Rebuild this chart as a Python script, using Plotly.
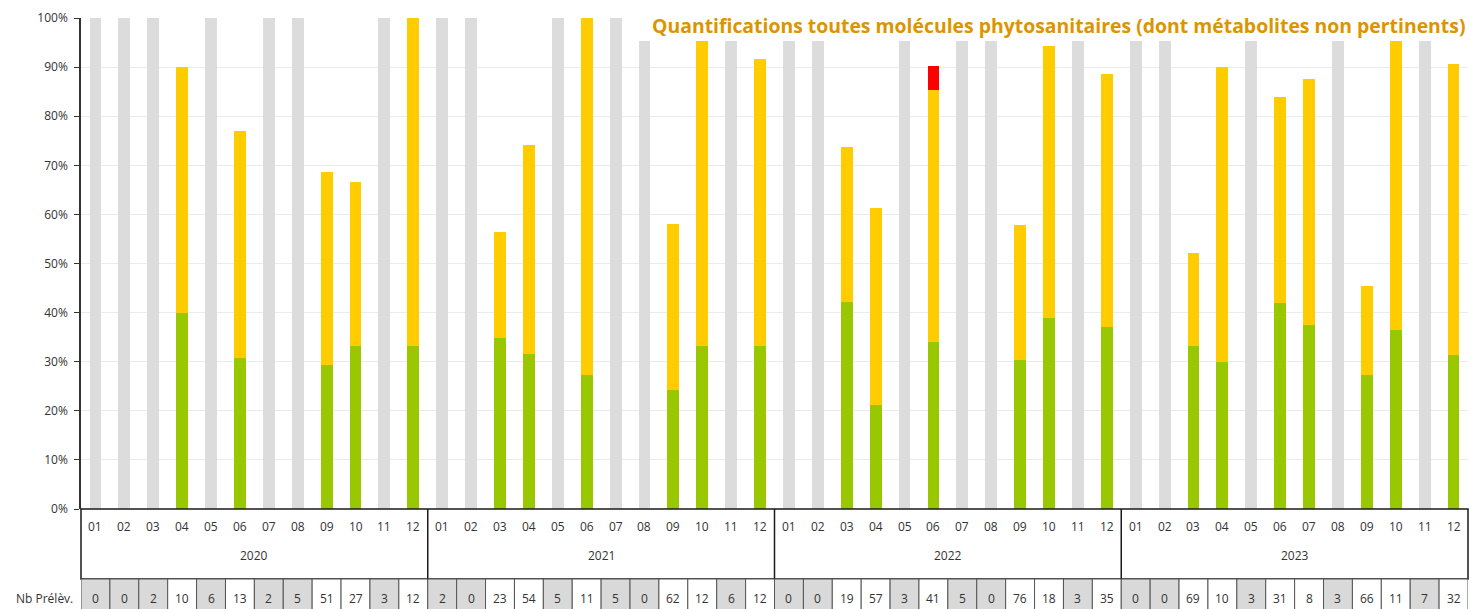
import plotly.graph_objects as go

# ---------------- data ----------------
years = ["2020", "2021", "2022", "2023"]
month_labels = ["01", "02", "03", "04", "05", "06", "07", "08", "09", "10", "11", "12"]

nb_prelev = [0, 0, 2, 10, 6, 13, 2, 5, 51, 27, 3, 12,
             2, 0, 23, 54, 5, 11, 5, 0, 62, 12, 6, 12,
             0, 0, 19, 57, 3, 41, 5, 0, 76, 18, 3, 35,
             0, 0, 69, 10, 3, 31, 8, 3, 66, 11, 7, 32]

# gray bars = months with insufficient sampling (100 %), None otherwise
insufficient = [100, 100, 100, None, 100, None, 100, 100, None, None, 100, None,
                100, 100, None, None, 100, None, 100, 100, None, None, 100, None,
                100, 100, None, None, 100, None, 100, 100, None, None, 100, None,
                100, 100, None, None, 100, None, None, 100, None, None, 100, None]

# stacked segments (%)
green = [None, None, None, 40.0, None, 30.8, None, None, 29.4, 33.3, None, 33.3,
         None, None, 34.8, 31.5, None, 27.3, None, None, 24.2, 33.3, None, 33.3,
         None, None, 42.1, 21.1, None, 34.1, None, None, 30.3, 38.9, None, 37.1,
         None, None, 33.3, 30.0, None, 41.9, 37.5, None, 27.3, 36.4, None, 31.3]

yellow = [None, None, None, 50.0, None, 46.1, None, None, 39.2, 33.4, None, 66.7,
          None, None, 21.7, 42.6, None, 72.7, None, None, 33.9, 66.7, None, 58.4,
          None, None, 31.6, 40.3, None, 51.3, None, None, 27.6, 55.5, None, 51.5,
          None, None, 18.9, 60.0, None, 42.0, 50.0, None, 18.2, 63.6, None, 59.3]

red = [None, None, None, 0, None, 0, None, None, 0, 0, None, 0,
       None, None, 0, 0, None, 0, None, None, 0, 0, None, 0,
       None, None, 0, 0, None, 4.8, None, None, 0, 0, None, 0,
       None, None, 0, 0, None, 0, 0, None, 0, 0, None, 0]

title_text = "Quantifications toutes molécules phytosanitaires (dont métabolites non pertinents)"

# ---------------- figure ----------------
W, H = 1471, 609
ML, MR, MT, MB = 81, 3, 18, 100
PH = H - MT - MB
PW = W - ML - MR
FONT = "Open Sans"
TXT = "#333333"


def py(pixel_y):
    """pixel y -> paper y"""
    return (H - MB - pixel_y) / PH


def px(pixel_x):
    return (pixel_x - ML) / PW


n = len(nb_prelev)
x = list(range(n))
bw = 0.41

fig = go.Figure()
fig.add_trace(go.Bar(x=x, y=insufficient, marker_color="#dcdcdc", width=bw,
                     marker_line_width=0, name="insuffisant", showlegend=False))
fig.add_trace(go.Bar(x=x, y=green, marker_color="#99c800", width=bw,
                     marker_line_width=0, name="vert", showlegend=False))
fig.add_trace(go.Bar(x=x, y=yellow, marker_color="#ffcc00", width=bw,
                     marker_line_width=0, name="jaune", showlegend=False))
fig.add_trace(go.Bar(x=x, y=red, marker_color="#ff0000", width=bw,
                     marker_line_width=0, name="rouge", showlegend=False))

shapes = []
annotations = []

hdr_bottom = py(579)
row_bottom = py(625)

# header box
shapes.append(dict(type="rect", xref="paper", yref="paper", x0=0, x1=px(1468),
                   y0=hdr_bottom, y1=0, line=dict(color="#1a1a1a", width=1.5),
                   fillcolor="rgba(0,0,0,0)", layer="above"))
# year separators
for k in range(1, len(years)):
    xs = 12 * k - 0.5
    shapes.append(dict(type="line", xref="x", yref="paper", x0=xs, x1=xs,
                       y0=hdr_bottom, y1=0, line=dict(color="#1a1a1a", width=1.5)))

# Nb prélèvements cells
for i in range(n):
    fill = "#d9d9d9" if insufficient[i] is not None else "#ffffff"
    shapes.append(dict(type="rect", xref="x", yref="paper", x0=i - 0.5, x1=i + 0.5,
                       y0=row_bottom, y1=hdr_bottom, fillcolor=fill,
                       line=dict(color="#555555", width=1)))
    annotations.append(dict(x=i, y=py(598), xref="x", yref="paper", text=str(nb_prelev[i]),
                            showarrow=False, yanchor="middle",
                            font=dict(family=FONT, size=12, color=TXT)))
    annotations.append(dict(x=i, y=py(526), xref="x", yref="paper",
                            text=month_labels[i % 12], showarrow=False, yanchor="middle",
                            font=dict(family=FONT, size=12, color=TXT)))

for k, yr in enumerate(years):
    annotations.append(dict(x=12 * k + 5.5, y=py(555), xref="x", yref="paper", text=yr,
                            showarrow=False, yanchor="middle",
                            font=dict(family=FONT, size=12, color=TXT)))

annotations.append(dict(x=px(75), y=py(598), xref="paper", yref="paper", text="Nb Prélèv.",
                        showarrow=False, xanchor="right", yanchor="middle",
                        font=dict(family=FONT, size=12, color=TXT)))

# white box behind the title
shapes.append(dict(type="rect", xref="paper", yref="paper", x0=px(633), x1=px(1475),
                   y0=py(41), y1=py(-5), fillcolor="#ffffff", line=dict(width=0),
                   layer="above"))
annotations.append(dict(x=px(1468), y=py(25), xref="paper", yref="paper",
                        text="<b>" + title_text + "</b>",
                        showarrow=False, xanchor="right", yanchor="middle",
                        font=dict(family=FONT, size=19.4, color="#dc9500")))

fig.update_layout(
    width=W, height=H, autosize=False,
    margin=dict(l=ML, r=MR, t=MT, b=MB, pad=0),
    paper_bgcolor="#ffffff", plot_bgcolor="#ffffff",
    barmode="stack", bargap=0,
    shapes=shapes, annotations=annotations,
    xaxis=dict(range=[-0.5, n - 0.5], showticklabels=False, showgrid=False,
               zeroline=False, ticks="", fixedrange=True),
    yaxis=dict(range=[0, 100], tickvals=list(range(0, 101, 10)),
               ticktext=[f"{v}%" for v in range(0, 101, 10)],
               ticks="outside", ticklen=5, tickcolor="#333333",
               ticklabelstandoff=4,
               showline=True, linecolor="#333333", linewidth=1.5,
               showgrid=True, gridcolor="#ebebeb", gridwidth=1, zeroline=False,
               tickfont=dict(family=FONT, size=12, color=TXT),
               fixedrange=True),
)

fig.write_html("out.html", config={"displayModeBar": False},
               post_script="document.body.style.margin='0';document.body.style.overflow='hidden';")
